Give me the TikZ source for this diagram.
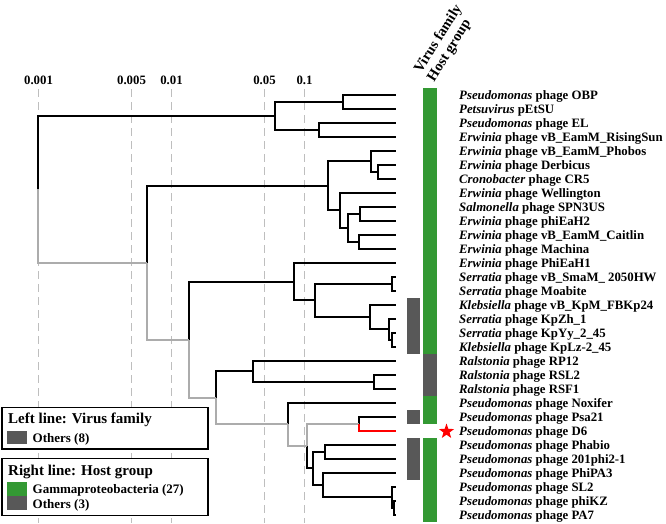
\documentclass[tikz,border=0pt]{standalone}
\usepackage{fontspec}
\setmainfont{Liberation Serif}
\usetikzlibrary{shapes.geometric}
\definecolor{tgreen}{RGB}{51,153,51}
\definecolor{tdark}{RGB}{88,88,88}
\definecolor{tgray}{RGB}{172,172,172}
\definecolor{tgrid}{RGB}{190,190,190}
\begin{document}
\begin{tikzpicture}[x=1pt,y=-1pt,
  br/.style={line width=2.2pt,black},
  gbr/.style={line width=2.2pt,tgray},
  rbr/.style={line width=2.2pt,red},
  gridline/.style={tgrid,line width=0.8pt,dash pattern=on 8pt off 5pt},
  lab/.style={anchor=base west,inner sep=0pt,font=\fontsize{12.8}{14}\selectfont\bfseries},
  axlab/.style={anchor=base,inner sep=0pt,font=\fontsize{12.8}{14}\selectfont\bfseries},
  headlab/.style={anchor=south west,inner sep=0pt,rotate=58,align=left,font=\fontsize{14.5}{15.5}\selectfont\bfseries},
  legbox/.style={draw=black,fill=white,line width=1.4pt},
  legtitle/.style={anchor=base west,inner sep=0pt,font=\fontsize{15}{17}\selectfont\bfseries},
  legitem/.style={anchor=base west,inner sep=0pt,font=\fontsize{13}{15}\selectfont\bfseries}]
\useasboundingbox (0,0) rectangle (666,523);

% grid
\foreach \gx/\gl/\gn in {38.5/0.001/a,131.5/0.005/b,171.5/0.01/c,264.5/0.05/d,304.5/0.1/e}{
  \draw[gridline] (\gx,89) -- (\gx,523);
  \node[axlab] (ax\gn) at (\gx,84.5) {\gl};
}

% leaves
\foreach \i/\yy in {1/95,2/109,3/123,4/137,5/151,6/165,7/179,8/193,9/207,10/221,11/235,12/249,13/263,14/277,15/291,16/305,17/319,18/333,19/347,20/361,21/375,22/389,23/403,24/417,25/431,26/445,27/459,28/473,29/487,30/501,31/515}{
  \coordinate (L\i) at (396,\yy);
}

% internal nodes
\coordinate (R) at (38,189);
\coordinate (A) at (275,116);
\coordinate (A1) at (343,102);
\coordinate (A2) at (319,130);
\coordinate (B) at (147,263);
\coordinate (B1) at (328,186);
\coordinate (B11) at (371,161);
\coordinate (B111) at (378,172);
\coordinate (B12) at (340,210);
\coordinate (B121) at (348,228);
\coordinate (B1211) at (360,214);
\coordinate (B1212) at (359,242);
\coordinate (C) at (189,340);
\coordinate (C1) at (294,282);
\coordinate (C11) at (315,300);
\coordinate (C111) at (392,284);
\coordinate (C112) at (370,317);
\coordinate (C1121) at (389,329);
\coordinate (C11211) at (392,340);
\coordinate (D) at (216,398);
\coordinate (D1) at (253,371);
\coordinate (D11) at (374,382);
\coordinate (E) at (288,424);
\coordinate (F) at (307,446);
\coordinate (G) at (359,424);
\coordinate (H) at (313,468);
\coordinate (H1) at (325,452);
\coordinate (H2) at (323,485);
\coordinate (H21) at (392,497);
\coordinate (H211) at (394,508);

% black edges
\foreach \p/\c in {R/A,A/A1,A/A2,A1/L1,A1/L2,A2/L3,A2/L4,
  B/B1,B1/B11,B1/B12,B11/L5,B11/B111,B111/L6,B111/L7,
  B12/L8,B12/B121,B121/B1211,B121/B1212,B1211/L9,B1211/L10,B1212/L11,B1212/L12,
  C/C1,C1/L13,C1/C11,C11/C111,C11/C112,C111/L14,C111/L15,
  C112/L16,C112/C1121,C1121/L17,C1121/C11211,C11211/L18,C11211/L19,
  D/D1,D1/L20,D1/D11,D11/L21,D11/L22,
  E/L23,F/H,G/L24,H/H1,H/H2,H1/L26,H1/L27,H2/L28,H2/H21,H21/L29,H21/H211,H211/L30,H211/L31}{
  \draw[br] (\p) |- (\c);
}
% grey path to D6
\foreach \p/\c in {R/B,B/C,C/D,D/E,E/F,F/G}{
  \draw[gbr] (\p) |- (\c);
}
\draw[rbr] (G) |- (L25);

% colour bars
\fill[tdark] (407,298) rectangle (420,354);
\fill[tdark] (407,410) rectangle (420,424);
\fill[tdark] (407,438) rectangle (420,480);
\fill[tgreen] (423,88) rectangle (437,354);
\fill[tdark] (423,354) rectangle (437,396);
\fill[tgreen] (423,396) rectangle (437,424);
\fill[tgreen] (423,438) rectangle (437,522);

\node[star,star points=5,star point ratio=2.5,fill=red,minimum size=16pt,inner sep=0pt] (st) at (446.5,431.5) {};

% header
\node[headlab] (hd) at (437,84) {Virus family\\Host group};

% labels
\foreach \i/\yy/\g/\r in {
 1/95/Pseudomonas/phage OBP,
 2/109/Petsuvirus/pEtSU,
 3/123/Pseudomonas/phage EL,
 4/137/Erwinia/phage vB\_EamM\_RisingSun,
 5/151/Erwinia/phage vB\_EamM\_Phobos,
 6/165/Erwinia/phage Derbicus,
 7/179/Cronobacter/phage CR5,
 8/193/Erwinia/phage Wellington,
 9/207/Salmonella/phage SPN3US,
 10/221/Erwinia/phage phiEaH2,
 11/235/Erwinia/phage vB\_EamM\_Caitlin,
 12/249/Erwinia/phage Machina,
 13/263/Erwinia/phage PhiEaH1,
 14/277/Serratia/phage vB\_SmaM\_ 2050HW,
 15/291/Serratia/phage Moabite,
 16/305/Klebsiella/phage vB\_KpM\_FBKp24,
 17/319/Serratia/phage KpZh\_1,
 18/333/Serratia/phage KpYy\_2\_45,
 19/347/Klebsiella/phage KpLz-2\_45,
 20/361/Ralstonia/phage RP12,
 21/375/Ralstonia/phage RSL2,
 22/389/Ralstonia/phage RSF1,
 23/403/Pseudomonas/phage Noxifer,
 24/417/Pseudomonas/phage Psa21,
 25/431/Pseudomonas/phage D6,
 26/445/Pseudomonas/phage Phabio,
 27/459/Pseudomonas/phage 201phi2-1,
 28/473/Pseudomonas/phage PhiPA3,
 29/487/Pseudomonas/phage SL2,
 30/501/Pseudomonas/phage phiKZ,
 31/515/Pseudomonas/phage PA7}{
  \node[lab] (t\i) at (459,\yy+4.3) {\textit{\g} \r};
}

% legends
\draw[legbox] (2,407.5) rectangle (208,449);
\node[legtitle] (lt1) at (8,423.5) {Left line: Virus family};
\fill[tdark] (7.3,430.7) rectangle (27.3,444.3);
\node[legitem] (li1) at (32.5,442.5) {Others (8)};

\draw[legbox] (2,458.5) rectangle (208,515.5);
\node[legtitle] (lt2) at (8,475) {Right line: Host group};
\fill[tgreen] (7.3,481.7) rectangle (27.3,495.7);
\fill[tdark] (7.3,495.7) rectangle (27.3,510);
\node[legitem] (li2) at (32.5,493.5) {Gammaproteobacteria (27)};
\node[legitem] (li3) at (32.5,508.5) {Others (3)};
\end{tikzpicture}
\end{document}
